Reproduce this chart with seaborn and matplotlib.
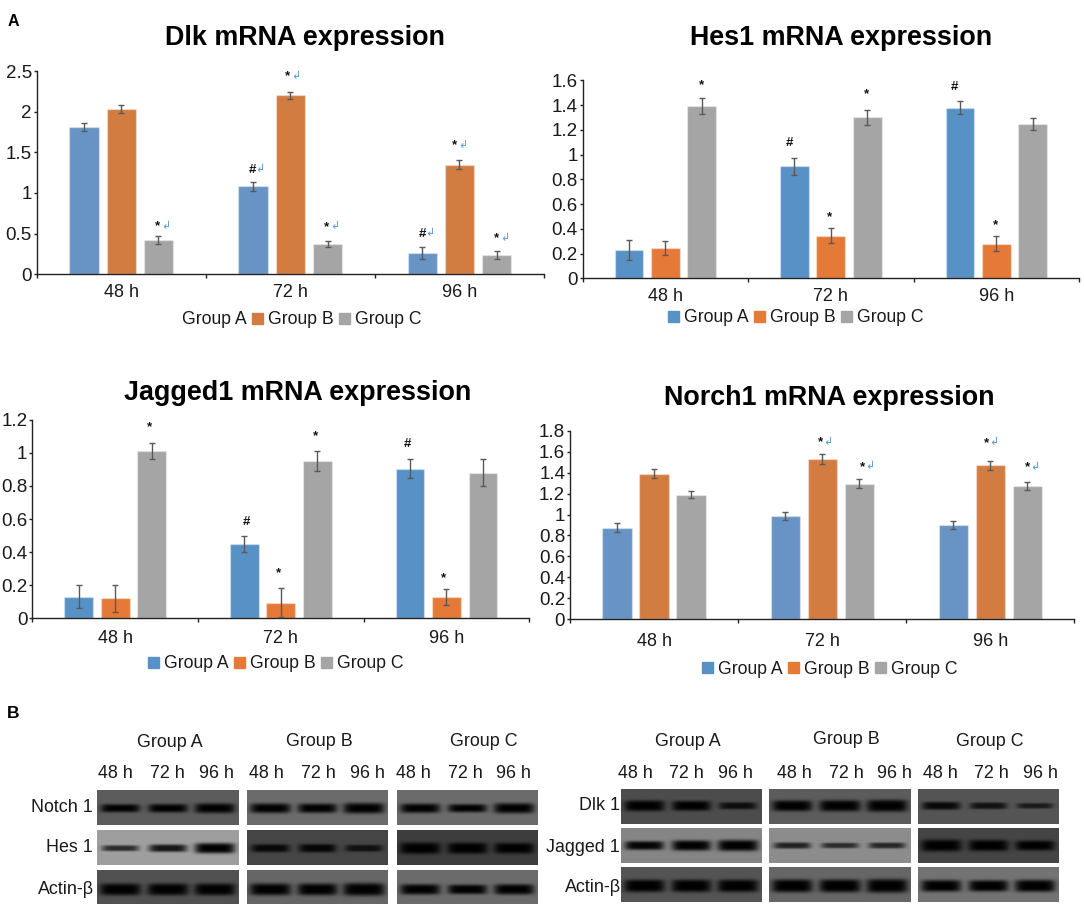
import numpy as np
import pandas as pd
import matplotlib
matplotlib.use("Agg")
import matplotlib.pyplot as plt
import seaborn as sns

W, H = 1084, 915
times = ["48 h", "72 h", "96 h"]
groups = ["Group A", "Group B", "Group C"]

# ---- mRNA values (per group, across times) and error half-widths
dlk_a = [1.81, 1.08, 0.26]
dlk_b = [2.03, 2.20, 1.35]
dlk_c = [0.42, 0.37, 0.24]
dlk_err_a = [0.05, 0.05, 0.07]
dlk_err_b = [0.05, 0.04, 0.06]
dlk_err_c = [0.05, 0.035, 0.05]

hes_a = [0.23, 0.905, 1.38]
hes_b = [0.245, 0.345, 0.28]
hes_c = [1.39, 1.30, 1.245]
hes_err_a = [0.08, 0.07, 0.05]
hes_err_b = [0.06, 0.06, 0.06]
hes_err_c = [0.065, 0.06, 0.05]

jag_a = [0.13, 0.45, 0.905]
jag_b = [0.12, 0.095, 0.13]
jag_c = [1.01, 0.95, 0.88]
jag_err_a = [0.07, 0.05, 0.06]
jag_err_b = [0.08, 0.09, 0.05]
jag_err_c = [0.05, 0.06, 0.08]

nor_a = [0.875, 0.985, 0.90]
nor_b = [1.39, 1.53, 1.47]
nor_c = [1.19, 1.295, 1.27]
nor_err_a = [0.04, 0.04, 0.04]
nor_err_b = [0.04, 0.05, 0.045]
nor_err_c = [0.035, 0.04, 0.04]

# significance marks: (time index, group index, symbol, gap above error bar px, dx px)
dlk_marks = [(0, 2, "*", 11, -1), (1, 0, "#", 14, -1), (1, 1, "*", 17, -3), (1, 2, "*", 16, -1),
             (2, 0, "#", 15, 0), (2, 1, "*", 16, -5), (2, 2, "*", 14, 0)]
hes_marks = [(0, 2, "*", 15, 0), (1, 0, "#", 16, -5), (1, 1, "*", 13, -1), (1, 2, "*", 17, -1),
             (2, 0, "#", 16, -5), (2, 1, "*", 13, -1)]
jag_marks = [(0, 2, "*", 17, -2), (1, 0, "#", 15, 2), (1, 1, "*", 16, -2), (1, 2, "*", 16, -2),
             (2, 0, "#", 16, -3), (2, 1, "*", 12, -3)]
nor_marks = [(1, 1, "*", 13, -2), (1, 2, "*", 14, 3), (2, 1, "*", 19, -4), (2, 2, "*", 16, 0)]

dlk_ticks = ["0", "0.5", "1", "1.5", "2", "2.5"]
hes_ticks = ["0", "0.2", "0.4", "0.6", "0.8", "1", "1.2", "1.4", "1.6"]
jag_ticks = ["0", "0.2", "0.4", "0.6", "0.8", "1", "1.2"]
nor_ticks = ["0", "0.2", "0.4", "0.6", "0.8", "1", "1.2", "1.4", "1.6", "1.8"]

# ---- western blot band strength per row / group / lane, and membrane grey level
blot_left_rows = ["Notch 1", "Hes 1", "Actin-β"]
blot_left_bg = [[.36, .42, .42], [.62, .27, .24], [.32, .40, .42]]
blot_left_bands = [
    [[.65, .70, .85], [.85, .80, .95], [.80, .65, .90]],
    [[.25, .45, .80], [.50, .55, .35], [.95, .90, .85]],
    [[1.0, 1.0, 1.0], [1.0, 1.0, 1.1], [.80, .70, .80]],
]
blot_right_rows = ["Dlk 1", "Jagged 1", "Actin-β"]
blot_right_bg = [[.30, .36, .33], [.52, .55, .27], [.33, .40, .45]]
blot_right_bands = [
    [[.85, .75, .40], [.85, .90, 1.0], [.50, .35, .20]],
    [[.60, .80, .90], [.30, .20, .25], [1.0, .90, .75]],
    [[.95, .95, .95], [1.0, 1.0, 1.1], [.85, .80, .90]],
]

# ---- styling
sns.set_theme(style="ticks")
plt.rcParams["font.family"] = ["Liberation Sans", "DejaVu Sans"]
fig = plt.figure(figsize=(W / 100, H / 100), dpi=100, facecolor="white")


def px_axes(x0, y0, x1, y1):
    return fig.add_axes([x0 / W, 1 - y1 / H, (x1 - x0) / W, (y1 - y0) / H])


def ftext(x, y, s, **kw):
    kw.setdefault("ha", "center")
    kw.setdefault("va", "center")
    kw.setdefault("color", "#1a1a1a")
    fig.text(x / W, 1 - y / H, s, **kw)


def chart(box, ymax, step, ticklabels, vals, errs, colors, legend_colors, title, title_xy,
          legend_xy, marks, arrows, xpad, hide_first=False):
    ax = px_axes(*box)
    df = pd.DataFrame({
        "time": times * 3,
        "group": [g for g in groups for _ in times],
        "value": [v for s in vals for v in s],
    })
    sns.barplot(data=df, x="time", y="value", hue="group", order=times, hue_order=groups,
                palette=colors, width=0.66, gap=0.21, errorbar=None, saturation=1,
                edgecolor=(1, 1, 1, 0.35), linewidth=1, ax=ax)
    tops = {}
    for g, cont in enumerate(list(ax.containers)):
        for t, bar in enumerate(cont):
            xc = bar.get_x() + bar.get_width() / 2
            ax.errorbar(xc, bar.get_height(), yerr=errs[g][t], color="#595959", lw=1,
                        capsize=2.2, capthick=1, zorder=5)
            tops[(t, g)] = (xc, bar.get_height() + errs[g][t])
    for t, g, sym, gap, dx in marks:
        xc, yt = tops[(t, g)]
        ax.annotate(sym, (xc, yt), xytext=(dx * 0.72, gap * 0.72), textcoords="offset points",
                    ha="center", va="center_baseline", fontsize=9.5, fontweight="bold", color="#111111")
        if arrows:
            ax.annotate("\u21b2", (xc, yt), xytext=((dx + 8) * 0.72, (gap - 1) * 0.72),
                        textcoords="offset points", ha="center", va="center",
                        fontsize=8, color="#5b9bd5", family="DejaVu Sans")
    ax.set_xlim(-0.5, 2.5)
    ax.set_ylim(0, ymax)
    ax.set_yticks(np.arange(len(ticklabels)) * step)
    ax.set_yticklabels(ticklabels)
    ax.set_xticks([0, 1, 2])
    ax.set_xticklabels(times)
    ax.set_xticks([-0.5, 0.5, 1.5, 2.5], minor=True)
    ax.set_xlabel("")
    ax.set_ylabel("")
    ax.tick_params(axis="x", which="major", length=0, pad=xpad, labelsize=13, labelcolor="#1a1a1a")
    ax.tick_params(axis="x", which="minor", length=3, width=1, color="#222222", direction="out")
    ax.tick_params(axis="y", length=2.5, width=1, pad=1, labelsize=13.5, color="#222222", labelcolor="#1a1a1a")
    sns.despine(ax=ax)
    for s in ("left", "bottom"):
        ax.spines[s].set_color("#222222")
        ax.spines[s].set_linewidth(1)
    ax.patch.set_alpha(0)

    sns.move_legend(ax, "center", bbox_to_anchor=(legend_xy[0] / W, 1 - legend_xy[1] / H),
                    bbox_transform=fig.transFigure, ncol=3, frameon=False, title=None,
                    fontsize=12.7, handlelength=0.62, handleheight=0.62, handletextpad=0.28,
                    columnspacing=0.32, borderpad=0, labelcolor="#1a1a1a")
    leg = ax.get_legend()
    for h, c in zip(leg.legend_handles, legend_colors):
        h.set_facecolor(c)
        h.set_edgecolor(c)
    if hide_first:
        leg.legend_handles[0].set_visible(False)
    ftext(title_xy[0], title_xy[1], title, fontsize=19.4, fontweight="bold", color="black")


C_A1, C_B1, C_C = "#6893c5", "#d27c42", "#a5a5a5"
C_A2, C_B2 = "#5791c6", "#e57a38"

chart((36.7, 71, 544, 274.3), 2.5, 0.5, dlk_ticks, [dlk_a, dlk_b, dlk_c],
      [dlk_err_a, dlk_err_b, dlk_err_c], [C_A1, C_B1, C_C], [C_A1, C_B1, C_C],
      "Dlk mRNA expression", (305, 38), (294, 320), dlk_marks, True, 7, hide_first=True)
chart((582.7, 80.3, 1079, 278.3), 1.6, 0.2, hes_ticks, [hes_a, hes_b, hes_c],
      [hes_err_a, hes_err_b, hes_err_c], [C_A2, C_B2, C_C], [C_A2, C_B2, C_C],
      "Hes1 mRNA expression", (841, 38), (796, 318), hes_marks, False, 6.8)
chart((32.3, 419.7, 529.3, 618.3), 1.2, 0.2, jag_ticks, [jag_a, jag_b, jag_c],
      [jag_err_a, jag_err_b, jag_err_c], [C_A2, C_B2, C_C], [C_A2, C_B2, C_C],
      "Jagged1 mRNA expression", (298, 393), (275.5, 664), jag_marks, False, 8.4)
chart((570, 430.7, 1074.3, 619.3), 1.8, 0.2, nor_ticks, [nor_a, nor_b, nor_c],
      [nor_err_a, nor_err_b, nor_err_c], [C_A1, C_B1, C_C], [C_A2, C_B2, C_C],
      "Norch1 mRNA expression", (829, 398), (830, 669), nor_marks, True, 10)


# ---- panel B
def blot(box, bg, strengths, yc):
    x0, y0, x1, y1 = box
    nx, ny = int(round(x1 - x0)), int(round(y1 - y0))
    xs = (np.arange(nx) + 0.5) / nx
    ys = (np.arange(ny) + 0.5)
    img = np.full((ny, nx), float(bg))
    for s, cx in zip(strengths, (0.165, 0.5, 0.83)):
        half_w = 0.125 + 0.02 * s
        half_h = 2.0 + 4.0 * s
        prof_x = np.exp(-np.abs((xs - cx) / half_w) ** 6)
        prof_y = np.exp(-np.abs((ys - yc * ny) / half_h) ** 3.5)
        dark = min(1.0, 0.55 + 0.7 * s)
        img = img * (1 - dark * np.outer(prof_y, prof_x))
    ax = px_axes(*box)
    sns.heatmap(img, cmap="gray", vmin=0, vmax=1, cbar=False, xticklabels=False,
                yticklabels=False, ax=ax, rasterized=True)


left_cols = [(97.3, 239), (246.7, 388.3), (396.7, 538)]
left_rows = [(789.7, 825.3), (830.3, 865), (869.7, 904)]
left_yc = [.52, .52, .57]
right_cols = [(620.7, 762.3), (769.3, 910.7), (918.3, 1059.3)]
right_rows = [(789, 824.3), (828, 863.3), (867.3, 901.7)]
right_yc = [.48, .50, .54]

for r, (ya, yb) in enumerate(left_rows):
    for c, (xa, xb) in enumerate(left_cols):
        blot((xa, ya, xb, yb), blot_left_bg[r][c], blot_left_bands[r][c], left_yc[r])
for r, (ya, yb) in enumerate(right_rows):
    for c, (xa, xb) in enumerate(right_cols):
        blot((xa, ya, xb, yb), blot_right_bg[r][c], blot_right_bands[r][c], right_yc[r])

FS = 12.9
for g, (x, y) in zip(groups * 2, [(170.3, 742.7), (319, 741), (483.8, 741),
                                  (687.5, 741), (846, 740), (989.7, 741)]):
    ftext(x, y, g, fontsize=FS)
for lbl, x in zip(times * 6, [115.8, 167, 216, 266.7, 318.3, 367, 413.3, 465, 513.7,
                              635.5, 686.7, 735.3, 794.3, 846, 894.7, 940, 991, 1040]):
    ftext(x, 773, lbl, fontsize=FS)
for lbl, x, y in zip(blot_left_rows, (93, 93, 94), (807, 847, 889)):
    ftext(x, y, lbl, fontsize=FS, ha="right")
for lbl, x, y in zip(blot_right_rows, (620, 620, 621), (806, 847, 887)):
    ftext(x, y, lbl, fontsize=FS, ha="right")

ftext(13, 22, "A", fontsize=11.5, fontweight="bold", color="black")
ftext(13, 714, "B", fontsize=12.5, fontweight="bold", color="black")

fig.savefig("out.png", dpi=100)
